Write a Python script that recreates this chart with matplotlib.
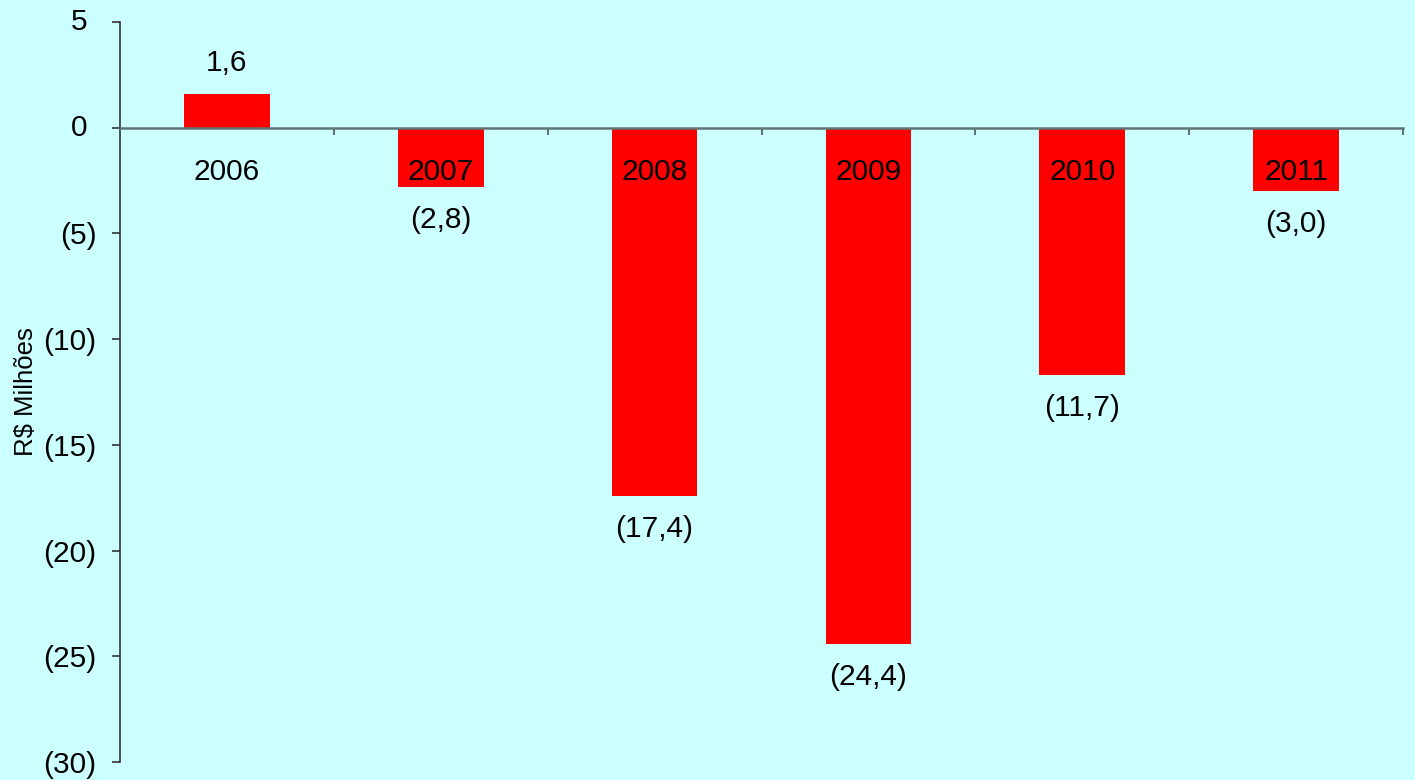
import matplotlib
matplotlib.use("Agg")
import matplotlib.pyplot as plt
from matplotlib.ticker import FuncFormatter

years = ["2006", "2007", "2008", "2009", "2010", "2011"]
values = [1.6, -2.8, -17.4, -24.4, -11.7, -3.0]
value_labels = ["1,6", "(2,8)", "(17,4)", "(24,4)", "(11,7)", "(3,0)"]
y_ticks = [5, 0, -5, -10, -15, -20, -25, -30]

plt.rcParams['font.family'] = ['Liberation Sans', 'DejaVu Sans']
bg = '#ccffff'
fs = 21.5
fig = plt.figure(figsize=(14.15, 7.8), dpi=100, facecolor=bg)
ax = fig.add_axes([120/1415, 1-762/780, (1403-120)/1415, (762-22)/780])
ax.set_facecolor(bg)

x = list(range(len(years)))
ax.bar(x, values, width=0.40, color='#ff0000', zorder=2)

ax.set_xlim(-0.5, len(years) - 0.5)
ax.set_ylim(-30, 5)
ax.set_yticks(y_ticks)
# negatives as (n); non-negative labels drawn separately to mimic accounting alignment
ax.yaxis.set_major_formatter(FuncFormatter(lambda v, p: f"({abs(int(v))})" if v < 0 else ""))
ax.tick_params(axis='y', direction='out', length=5.8, width=1.2, color='#333333', labelsize=fs, pad=11)
for v in y_ticks:
    if v >= 0:
        ax.annotate(f"{int(v)}", (0, v), xycoords=ax.get_yaxis_transform(),
                    xytext=(-33, 0), textcoords='offset pixels',
                    ha='right', va='center', fontsize=fs, color='black',
                    annotation_clip=False)

ax.set_xticks([i + 0.5 for i in x])
ax.set_xticklabels([])
ax.tick_params(axis='x', direction='out', length=5, width=1.5, color='#5f7575')

for s in ['top', 'right']:
    ax.spines[s].set_visible(False)
ax.spines['bottom'].set_position(('data', 0))
ax.spines['bottom'].set_color('#5f7575')
ax.spines['bottom'].set_linewidth(1.8)
ax.spines['bottom'].set_zorder(3)
ax.spines['left'].set_color('#333333')
ax.spines['left'].set_linewidth(1.2)

for xi, yr in zip(x, years):
    ax.annotate(yr, (xi, 0), xytext=(0, -44), textcoords='offset pixels',
                ha='center', va='center', fontsize=fs, color='black', zorder=4)

for xi, v, lab in zip(x, values, value_labels):
    off = 31 if v >= 0 else -33
    ax.annotate(lab, (xi, v), xytext=(0, off), textcoords='offset pixels',
                ha='center', va='center', fontsize=fs, color='black', zorder=4)

ax.set_ylabel("R$ Milhões", fontsize=18.5, labelpad=4)

fig.savefig("out.png", dpi=100, facecolor=bg)
